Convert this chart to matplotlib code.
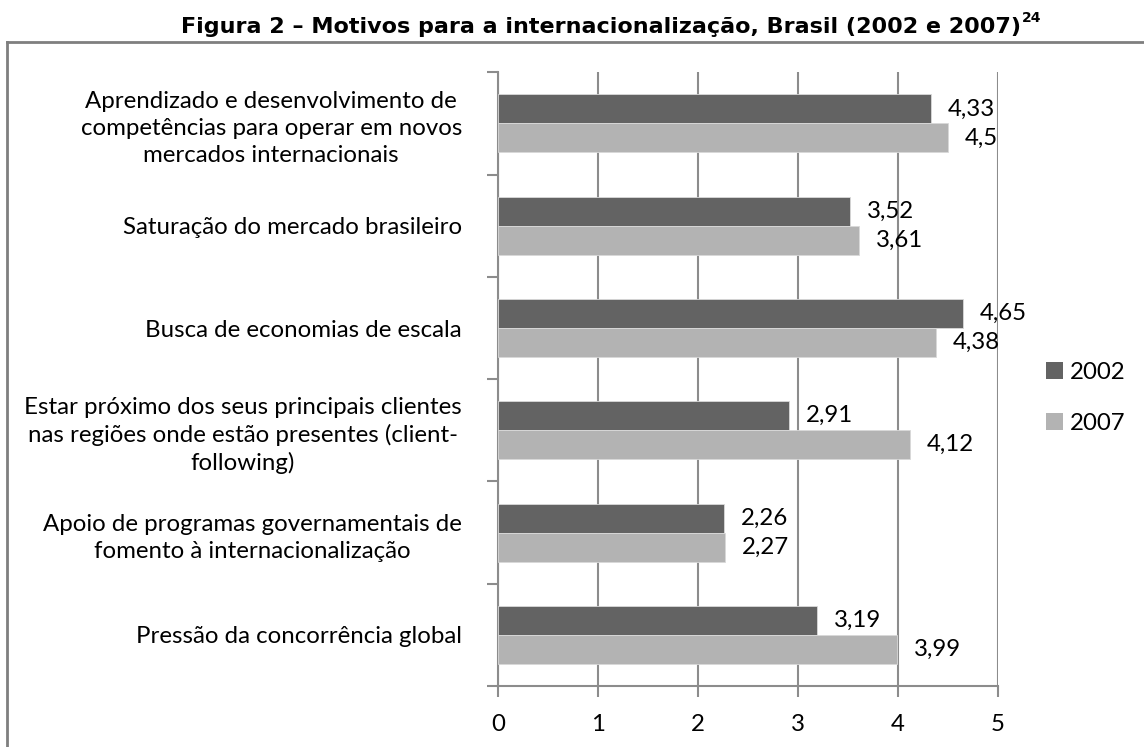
import matplotlib
matplotlib.use("Agg")
import numpy as np
import matplotlib.pyplot as plt
from matplotlib.lines import Line2D

# data (top to bottom as in the figure)
categories = [
    "Aprendizado e desenvolvimento de\ncompetências para operar em novos\nmercados internacionais",
    "Saturação do mercado brasileiro",
    "Busca de economias de escala",
    "Estar próximo dos seus principais clientes\nnas regiões onde estão presentes (client-\nfollowing)",
    "Apoio de programas governamentais de\nfomento à internacionalização",
    "Pressão da concorrência global",
]
series_names = ["2002", "2007"]
vals_2002 = [4.33, 3.52, 4.65, 2.91, 2.26, 3.19]
vals_2007 = [4.5, 3.61, 4.38, 4.12, 2.27, 3.99]
x_ticks = [0, 1, 2, 3, 4, 5]

title = "Figura 2 – Motivos para a internacionalização, Brasil (2002 e 2007)"
title_note = "24"

dark = "#636363"
light = "#b3b3b3"
gridc = "#8c8c8c"
fs = 17.3
body_font = "Lato"

W, H = 1144, 747
fig = plt.figure(figsize=(W / 100, H / 100), dpi=100)
fig.patch.set_facecolor("white")

ax = fig.add_axes([498 / W, 1 - 686 / H, 500 / W, (686 - 72.3) / H])

n = len(categories)
pos = np.arange(n)[::-1]  # first category on top
bh = 0.283
ax.barh(pos + bh / 2, vals_2002, height=bh, color=dark, edgecolor="#d9d9d9",
        linewidth=0.6, label=series_names[0], zorder=3)
ax.barh(pos - bh / 2, vals_2007, height=bh, color=light, edgecolor="#d9d9d9",
        linewidth=0.6, label=series_names[1], zorder=3)

for y, v in zip(pos + bh / 2, vals_2002):
    ax.text(v + 0.17, y, str(v).replace(".", ","), va="center", ha="left",
            fontsize=fs, family=body_font, color="black")
for y, v in zip(pos - bh / 2, vals_2007):
    ax.text(v + 0.17, y, str(v).replace(".", ","), va="center", ha="left",
            fontsize=fs, family=body_font, color="black")

ax.set_xlim(0, 5)
ax.set_ylim(-0.5, n - 0.5)
ax.set_xticks(x_ticks)
ax.set_xticklabels([str(t) for t in x_ticks], fontsize=fs, family=body_font)
ax.grid(axis="x", color=gridc, linewidth=1.5, zorder=0)

# category boundaries as major ticks, labels on minor ticks
ax.set_yticks(np.arange(-0.5, n, 1.0))
ax.set_yticklabels([])
ax.set_yticks(pos, minor=True)
ax.set_yticklabels(categories, minor=True, fontsize=fs, family=body_font,
                   multialignment="center", linespacing=1.35)
ax.tick_params(axis="y", which="minor", length=0, pad=26)
ax.tick_params(axis="y", which="major", length=8, width=1.5, color=gridc)
ax.tick_params(axis="x", length=8, width=1.5, color=gridc, pad=12)

for s in ["top", "right"]:
    ax.spines[s].set_visible(False)
for s in ["left", "bottom"]:
    ax.spines[s].set_color(gridc)
    ax.spines[s].set_linewidth(1.5)

leg = fig.legend(loc="center left", bbox_to_anchor=(1046 / W, 1 - 398 / H),
                 frameon=False, prop={"family": body_font, "size": fs},
                 handlelength=0.7, handleheight=0.7, handletextpad=0.3,
                 labelspacing=1.25, borderpad=0, borderaxespad=0)
for p in leg.get_patches():
    p.set_edgecolor("none")

# outer frame (runs off the right and bottom of the image)
fig.add_artist(Line2D([7 / W, 1], [1 - 42.3 / H] * 2, color="#7f7f7f", lw=2,
                      transform=fig.transFigure))
fig.add_artist(Line2D([7 / W] * 2, [0, 1 - 42.3 / H], color="#7f7f7f", lw=2,
                      transform=fig.transFigure))

t = fig.text(181 / W, 1 - 33 / H, title, ha="left", va="baseline",
             fontsize=16, fontweight="bold", family="DejaVu Sans")
fig.canvas.draw()
bb = t.get_window_extent()
fig.text((bb.x1 + 1) / W, 1 - 22 / H, title_note, ha="left", va="baseline",
         fontsize=10, fontweight="bold", family="DejaVu Sans")

fig.savefig("out.png", dpi=100)
